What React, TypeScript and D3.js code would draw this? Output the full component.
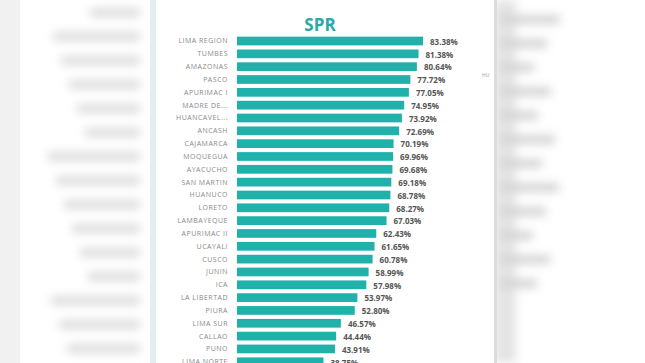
import React from 'react';
import * as d3 from 'd3';

// SPR by region
const regions = [
  'LIMA REGION', 'TUMBES', 'AMAZONAS', 'PASCO', 'APURIMAC I', 'MADRE DE...',
  'HUANCAVEL...', 'ANCASH', 'CAJAMARCA', 'MOQUEGUA', 'AYACUCHO', 'SAN MARTIN',
  'HUANUCO', 'LORETO', 'LAMBAYEQUE', 'APURIMAC II', 'UCAYALI', 'CUSCO',
  'JUNIN', 'ICA', 'LA LIBERTAD', 'PIURA', 'LIMA SUR', 'CALLAO', 'PUNO', 'LIMA NORTE',
];
const spr = [
  83.38, 81.38, 80.64, 77.72, 77.05, 74.95,
  73.92, 72.69, 70.19, 69.96, 69.68, 69.18,
  68.78, 68.27, 67.03, 62.43, 61.65, 60.78,
  58.99, 57.98, 53.97, 52.80, 46.57, 44.44, 43.91, 38.75,
];
const title = 'SPR';

const W = 645;
const H = 363;

export default function App() {
  const x = d3.scaleLinear().domain([0, 83.38]).range([237, 423]);
  const y = d3.scaleBand<string>()
    .domain(regions)
    .range([34.6, 34.6 + regions.length * 12.83])
    .paddingInner(0.32)
    .paddingOuter(0.16);

  // blurred page content around the chart panel (decoration only)
  const blurRows = d3.range(0, 15).map((i) => 12 + i * 24);

  return (
    <svg width={W} height={H} style={{ position: 'absolute', left: 0, top: 0, display: 'block' }}>
      <defs>
        <filter id="blur" x="-20%" y="-50%" width="140%" height="200%">
          <feGaussianBlur stdDeviation="5" />
        </filter>
      </defs>
      <rect x={0} y={0} width={W} height={H} fill="#ffffff" />
      <rect x={0} y={0} width={20} height={H} fill="#f1f1f1" />
      <g filter="url(#blur)">
        {blurRows.map((yy, i) => (
          <rect key={'l' + i} x={140 - (50 + ((i * 37) % 45))} y={yy - 4} width={50 + ((i * 37) % 45)} height={9} fill="#dcdcdc" />
        ))}
        <rect x={494} y={0} width={22} height={H} fill="#e4e4e4" />
        {blurRows.slice(0, 12).map((yy, i) => (
          <rect key={'r' + i} x={500} y={yy + 3} width={60 - ((i * 13) % 30)} height={9} fill="#d4d4d4" />
        ))}
      </g>
      <rect x={150} y={0} width={6} height={H} fill="#e4eeee" />
      <rect x={156} y={0} width={338} height={H} fill="#ffffff" />
      <rect x={494} y={0} width={3} height={H} fill="#dcdcdc" />

      <text x={320} y={31} textAnchor="middle" fontFamily="'Open Sans', sans-serif" fontWeight={700}
        fontSize={17} fill="#2aa9a6">{title}</text>

      {regions.map((r, i) => {
        const yy = y(r) as number;
        const bh = y.bandwidth();
        return (
          <g key={r}>
            <rect x={x(0)} y={yy} width={x(spr[i]) - x(0)} height={bh} fill="#20b2aa" />
            <text x={228} y={yy + bh / 2} dy="0.35em" textAnchor="end" letterSpacing={0.5}
              fontFamily="'Open Sans', sans-serif" fontSize={7} fill="#8a8a8a">{r}</text>
            <text x={x(spr[i]) + 7} y={yy + bh / 2 + 1} dy="0.35em" textAnchor="start"
              fontFamily="'Open Sans', sans-serif" fontWeight={700} fontSize={8} fill="#555555">
              {spr[i].toFixed(2)}%
            </text>
          </g>
        );
      })}
      <text x={482} y={77} fontFamily="'Open Sans', sans-serif" fontSize={5} fill="#999">HU</text>
    </svg>
  );
}
